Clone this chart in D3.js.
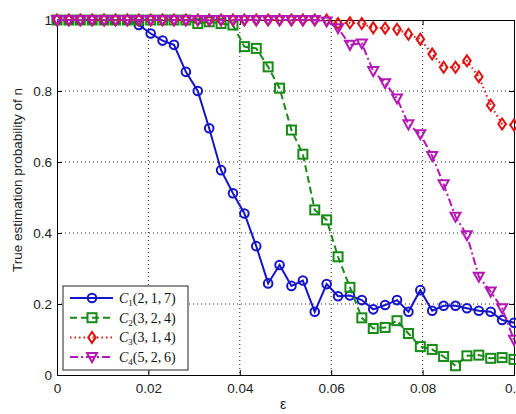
<!DOCTYPE html>
<html>
<head>
<meta charset="utf-8">
<script src="https://cdn.jsdelivr.net/npm/d3@7"></script>
<style>
  body { margin: 0; background: #fff; }
  svg { display: block; font-family: "Liberation Sans", Arial, sans-serif; }
</style>
</head>
<body>
<div id="grafico"></div>
<script>
// valores (eps de 0 a 0.1, 40 pontos)
var eps = [0, 0.0026, 0.0051, 0.0077, 0.0103, 0.0128, 0.0154, 0.0179, 0.0205, 0.0231,
  0.0256, 0.0282, 0.0308, 0.0333, 0.0359, 0.0385, 0.041, 0.0436, 0.0462, 0.0487,
  0.0513, 0.0538, 0.0564, 0.059, 0.0615, 0.0641, 0.0667, 0.0692, 0.0718, 0.0744,
  0.0769, 0.0795, 0.0821, 0.0846, 0.0872, 0.0897, 0.0923, 0.0949, 0.0974, 0.1];

var c1 = [1, 1, 1, 1, 1, 1, 1, 0.986, 0.962, 0.942,
  0.93, 0.854, 0.8, 0.695, 0.577, 0.512, 0.455, 0.363, 0.258, 0.31,
  0.251, 0.266, 0.178, 0.256, 0.222, 0.224, 0.211, 0.185, 0.197, 0.211,
  0.178, 0.239, 0.181, 0.195, 0.195, 0.188, 0.181, 0.178, 0.155, 0.147];

var c2 = [1, 1, 1, 1, 1, 1, 1, 1, 1, 1,
  1, 1, 0.99, 0.995, 0.99, 0.986, 0.925, 0.92, 0.868, 0.808,
  0.69, 0.622, 0.465, 0.437, 0.333, 0.247, 0.161, 0.131, 0.134, 0.153,
  0.117, 0.08, 0.072, 0.052, 0.026, 0.054, 0.056, 0.047, 0.049, 0.044];

var c3 = [1, 1, 1, 1, 1, 1, 1, 1, 1, 1,
  1, 1, 1, 1, 1, 1, 1, 1, 1, 1,
  1, 1, 1, 1, 0.99, 0.992, 0.99, 0.978, 0.977, 0.974,
  0.96, 0.946, 0.904, 0.867, 0.867, 0.885, 0.84, 0.76, 0.707, 0.704];

var c4 = [1, 1, 1, 1, 1, 1, 1, 1, 1, 1,
  1, 1, 1, 1, 1, 1, 1, 1, 1, 1,
  1, 1, 1, 0.996, 0.977, 0.93, 0.934, 0.856, 0.822, 0.779,
  0.706, 0.678, 0.617, 0.537, 0.446, 0.394, 0.277, 0.235, 0.188, 0.099];

var xTicks = [0, 0.02, 0.04, 0.06, 0.08, 0.1],
    yTicks = [0, 0.2, 0.4, 0.6, 0.8, 1],
    xTickLabels = ["0", "0.02", "0.04", "0.06", "0.08", "0.1"],
    yTickLabels = ["0", "0.2", "0.4", "0.6", "0.8", "1"];

var nomes = [["1", "(2,\u20091,\u20097)"], ["2", "(3,\u20092,\u20094)"],
             ["3", "(3,\u20091,\u20094)"], ["4", "(5,\u20092,\u20096)"]];

var width = 516,
    height = 414,
    esq = 57, dir = 514, topo = 20, base = 375;

var series = [
  { vals: c1, cor: "#1414c8", traco: null, marca: "circulo" },
  { vals: c2, cor: "#178a17", traco: "7,4", marca: "quadrado" },
  { vals: c3, cor: "#e01010", traco: "1.5,3", marca: "diamante" },
  { vals: c4, cor: "#b418b4", traco: "8,3,2,3", marca: "triangulo" }
];

var x = d3.scaleLinear().domain([0, 0.1]).range([esq, dir]);
var y = d3.scaleLinear().domain([0, 1]).range([base, topo]);

var svg = d3.select("#grafico").append("svg")
    .attr("width", width)
    .attr("height", height);

// grade pontilhada
svg.append("g").selectAll("line.gx")
  .data(xTicks.slice(1, -1)).enter().append("line")
    .attr("x1", function(d) { return x(d); }).attr("x2", function(d) { return x(d); })
    .attr("y1", topo).attr("y2", base)
    .attr("stroke", "#222").attr("stroke-width", 1)
    .attr("stroke-dasharray", "1,3");
svg.append("g").selectAll("line.gy")
  .data(yTicks.slice(1, -1)).enter().append("line")
    .attr("y1", function(d) { return y(d); }).attr("y2", function(d) { return y(d); })
    .attr("x1", esq).attr("x2", dir)
    .attr("stroke", "#222").attr("stroke-width", 1)
    .attr("stroke-dasharray", "1,3");

// eixos estilo matlab
var eixoX = svg.append("g").attr("transform", "translate(0," + base + ")")
  .call(d3.axisBottom(x).tickValues(xTicks).tickSize(-5).tickPadding(8)
    .tickFormat(function(d, i) { return xTickLabels[i]; }));
var eixoY = svg.append("g").attr("transform", "translate(" + esq + ",0)")
  .call(d3.axisLeft(y).tickValues(yTicks).tickSize(-5).tickPadding(5)
    .tickFormat(function(d, i) { return yTickLabels[i]; }));
svg.append("g").attr("transform", "translate(0," + topo + ")")
  .call(d3.axisTop(x).tickValues(xTicks).tickSize(-5).tickFormat(""));
svg.append("g").attr("transform", "translate(" + dir + ",0)")
  .call(d3.axisRight(y).tickValues(yTicks).tickSize(-5).tickFormat(""));

svg.selectAll(".domain").attr("stroke", "#000");
svg.selectAll(".tick line").attr("stroke", "#000");
svg.selectAll(".tick text").attr("font-size", 13.5).attr("fill", "#222")
  .attr("font-family", "Liberation Sans, Arial, sans-serif");

svg.append("text")
    .attr("transform", "translate(22,180) rotate(-90)")
    .attr("text-anchor", "middle")
    .attr("font-size", 13.5)
    .attr("fill", "#222")
    .text("True estimation probability of n");

svg.append("text")
    .attr("x", 283).attr("y", 409)
    .attr("text-anchor", "middle")
    .attr("font-size", 14)
    .attr("fill", "#222")
    .text("ε");

function desenha_marca(g, tipo, cor) {
  if (tipo == "circulo") {
    g.append("circle").attr("r", 4.3);
  } else if (tipo == "quadrado") {
    g.append("rect").attr("x", -4.5).attr("y", -4.5).attr("width", 9).attr("height", 9);
  } else if (tipo == "diamante") {
    g.append("path").attr("d", "M0,-5.5L3.8,0L0,5.5L-3.8,0Z");
  } else {
    g.append("path").attr("d", "M-5,-4L5,-4L0,5Z");
  }
  g.selectAll("*").attr("fill", "none").attr("stroke", cor).attr("stroke-width", 2);
}

var linha = d3.line()
    .x(function(d, i) { return x(eps[i]); })
    .y(function(d) { return y(d); });

series.forEach(function(s) {
  svg.append("path")
      .attr("d", linha(s.vals))
      .attr("fill", "none")
      .attr("stroke", s.cor)
      .attr("stroke-width", 2)
      .attr("stroke-dasharray", s.traco);
  s.vals.forEach(function(v, i) {
    var g = svg.append("g").attr("transform", "translate(" + x(eps[i]) + "," + y(v) + ")");
    desenha_marca(g, s.marca, s.cor);
  });
});

// legenda
var leg = svg.append("g").attr("transform", "translate(63,286)");
leg.append("rect")
    .attr("width", 125).attr("height", 84)
    .attr("fill", "#fff").attr("stroke", "#222").attr("stroke-width", 1);

series.forEach(function(s, i) {
  var yy = 12 + i * 19.7;
  leg.append("line")
      .attr("x1", 7).attr("x2", 50).attr("y1", yy).attr("y2", yy)
      .attr("stroke", s.cor).attr("stroke-width", 2)
      .attr("stroke-dasharray", s.traco);
  var g = leg.append("g").attr("transform", "translate(29," + yy + ")");
  desenha_marca(g, s.marca, s.cor);
  var t = leg.append("text")
      .attr("x", 56).attr("y", yy + 5)
      .attr("font-family", "Liberation Serif, DejaVu Serif, serif")
      .attr("font-size", 14)
      .attr("fill", "#111");
  t.append("tspan").attr("font-style", "italic").text("C");
  t.append("tspan").attr("font-size", 9).attr("dy", 3).text(nomes[i][0]);
  t.append("tspan").attr("dy", -3).text(nomes[i][1]);
});
</script>
</body>
</html>
